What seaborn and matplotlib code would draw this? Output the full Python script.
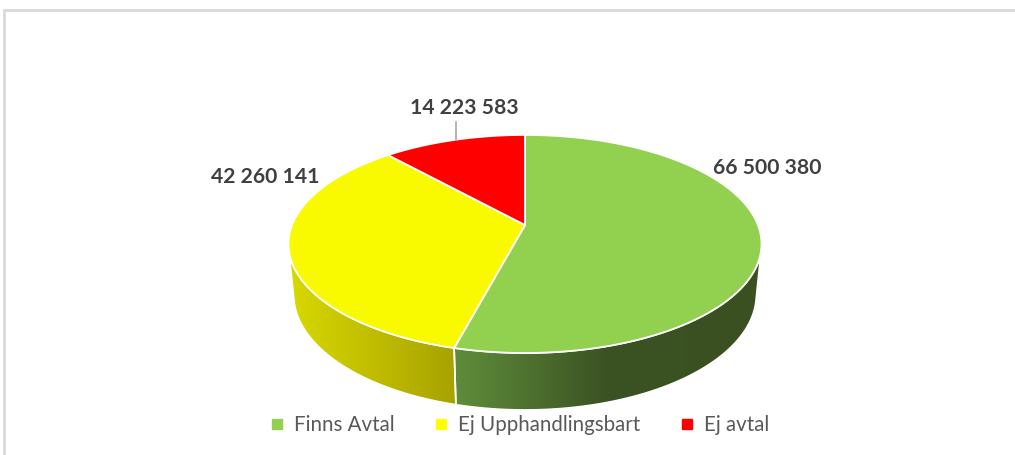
import numpy as np
import matplotlib
matplotlib.use("Agg")
import matplotlib.pyplot as plt
from matplotlib.patches import Polygon
from matplotlib.colors import LinearSegmentedColormap
from matplotlib.lines import Line2D
import seaborn as sns

# Data
categories = ["Finns Avtal", "Ej Upphandlingsbart", "Ej avtal"]
values = [66500380, 42260141, 14223583]
top_colors = ["#92d050", "#f9f900", "#ff0000"]
legend_colors = ["#92d050", "#ffff00", "#ff0000"]
# Side-wall shading (light -> dark, left to right)
side_shades = [["#5f8d3a", "#3b5223", "#3a5021"],
               ["#d8d800", "#a8a200"],
               ["#cc0000", "#880000"]]

sns.set_theme(style="white")
plt.rcParams["font.family"] = ["Lato", "DejaVu Sans"]

W, H = 1015, 455
fig = plt.figure(figsize=(W / 100, H / 100), dpi=100)
ax = fig.add_axes([0, 0, 1, 1])
ax.set_xlim(0, W)
ax.set_ylim(H, 0)
ax.axis("off")

# Perspective camera for a unit-radius disc of thickness h
cx, cy0 = 525, 225          # screen position of the pie centre
K = 232.9                   # screen scale
phi = np.radians(27.0)      # camera elevation
c = 0.174                   # perspective strength
Dcam = np.cos(phi) / c      # camera distance
h = 0.246                   # disc thickness


def proj(t_deg, z=0.0):
    t = np.radians(t_deg)
    x, y = np.cos(t), np.sin(t)
    depth = Dcam + y * np.cos(phi) - z * np.sin(phi)
    f = Dcam / depth
    return cx + K * x * f, cy0 - K * (y * np.sin(phi) + z * np.cos(phi)) * f


total = float(sum(values))
angles = []
start = 90.0
for v in values:
    sweep = 360.0 * v / total
    angles.append((start - sweep, start))
    start -= sweep

# Side wall faces the camera where sin(theta) < -1/(D cos(phi))
edge = np.degrees(np.arcsin(1.0 / (Dcam * np.cos(phi))))
vis_lo, vis_hi = -180.0 + edge, -edge

for (t1, t2), shade in zip(angles, side_shades):
    for shift in (0.0, 360.0, -360.0):
        lo = max(t1 + shift, vis_lo)
        hi = min(t2 + shift, vis_hi)
        if lo < hi:
            break
    else:
        continue
    ts = np.linspace(lo, hi, 200)
    xt, yt = proj(ts, 0.0)
    xb, yb = proj(ts, -h)
    px = np.concatenate([xt, xb[::-1]])
    py = np.concatenate([yt, yb[::-1]])
    poly = Polygon(np.column_stack([px, py]), closed=True, facecolor="none",
                   edgecolor="white", lw=1.2, zorder=2)
    ax.add_patch(poly)
    cmap = LinearSegmentedColormap.from_list("side", shade)
    grad = np.linspace(0, 1, 256)[None, :]
    im = ax.imshow(grad, cmap=cmap, extent=[px.min(), px.max(), py.max(), py.min()],
                   aspect="auto", zorder=1.5, interpolation="bilinear")
    im.set_clip_path(poly)

# Top face
for (t1, t2), col in zip(angles, top_colors):
    ts = np.linspace(t1, t2, 300)
    xs, ys = proj(ts, 0.0)
    pts = np.column_stack([np.r_[cx, xs], np.r_[cy0, ys]])
    ax.add_patch(Polygon(pts, closed=True, facecolor=col, edgecolor="white",
                         lw=1.3, joinstyle="round", zorder=3))

ax.set_xlim(0, W)
ax.set_ylim(H, 0)

# Value labels
label_pos = [(767, 168), (265, 177), (464, 108)]
for v, (lx, ly) in zip(values, label_pos):
    ax.text(lx, ly, f"{v:,}".replace(",", " "), ha="center", va="center",
            fontsize=15.2, fontweight="bold", color="#404040", zorder=5)
# leader line for the small slice
ax.plot([456, 456], [122, 140], color="#a6a6a6", lw=1.2, zorder=4)

# Legend
handles = [Line2D([], [], marker="s", linestyle="none", markersize=6.5,
                  markerfacecolor=c_, markeredgecolor=c_) for c_ in legend_colors]
ax.legend(handles, categories, loc="center", bbox_to_anchor=(520 / W, 1 - 425 / H),
          ncol=3, frameon=False, fontsize=14.8, labelcolor="#595959",
          handlelength=0.6, handletextpad=0.5, columnspacing=2.0)

# Chart area frame
ax.plot([4, 4, W], [H, 10, 10], color="#d9d9d9", lw=2, zorder=0,
        solid_joinstyle="miter")

fig.savefig("out.png", dpi=100, facecolor="white")
